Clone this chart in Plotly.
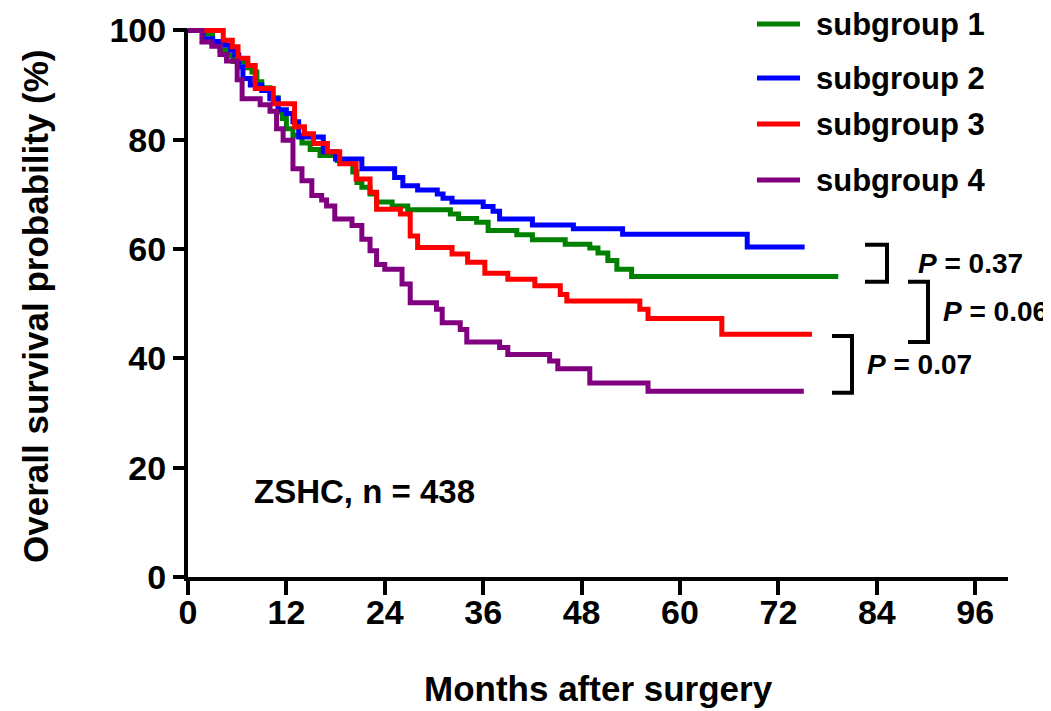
import plotly.graph_objects as go

# ---- data ----
months_g1 = [0, 2.3, 3.0, 3.9, 4.8, 5.5, 6.9, 7.8, 8.4, 9.0, 10.0, 11.0, 11.5, 12.0, 12.8, 13.9,
             14.9, 16.1, 18.2, 20.1, 20.6, 21.2, 22.2, 23.0, 24.9, 26.8, 32.0, 33.0, 35.2, 36.6,
             40.1, 42.0, 46.0, 49.0, 50.0, 51.2, 52.3, 54.1, 79.3]
surv_g1 = [100, 99.4, 97.6, 96.4, 95.4, 94.3, 93.2, 92.4, 90.6, 89.5, 87.7, 85.1, 83.9, 82.0, 80.8, 79.4,
           78.2, 77.1, 76.2, 74.1, 72.2, 71.3, 70.1, 68.6, 67.9, 67.2, 66.4, 65.6, 64.9, 63.4,
           62.6, 61.7, 60.9, 60.2, 59.3, 57.9, 56.3, 55.0, 55.0]

months_g2 = [0, 1.8, 3.0, 4.5, 5.2, 5.7, 6.2, 6.7, 7.6, 9.0, 10.0, 11.0, 12.0, 12.8, 13.5, 16.5,
             18.0, 21.2, 25.2, 26.2, 28.0, 30.4, 31.1, 32.2, 36.0, 37.2, 38.0, 42.0, 47.0, 53.0,
             68.2, 75.2]
surv_g2 = [100, 98.5, 98.0, 97.3, 96.4, 95.5, 93.3, 91.2, 90.0, 89.0, 87.5, 85.5, 84.8, 83.3, 80.5, 77.8,
           76.5, 74.7, 73.1, 71.6, 70.8, 70.1, 69.3, 68.6, 67.8, 66.9, 65.5, 64.4, 63.7, 62.7,
           60.4, 60.4]

months_g3 = [0, 4.3, 5.4, 6.1, 7.3, 8.2, 10.4, 13.0, 14.2, 15.3, 17.0, 18.5, 20.5, 22.2, 23.0,
             25.9, 27.1, 28.0, 32.2, 34.1, 36.2, 39.0, 42.3, 45.4, 46.2, 55.1, 56.1, 65.1, 76.1]
surv_g3 = [100, 98.2, 97.0, 94.9, 93.6, 89.4, 86.6, 82.4, 81.1, 79.3, 77.8, 75.6, 72.8, 70.4, 67.3,
           66.4, 62.4, 60.3, 59.1, 57.6, 55.6, 54.5, 53.3, 51.7, 50.5, 49.0, 47.3, 44.4, 44.4]

months_g4 = [0, 1.7, 2.9, 3.9, 4.7, 6.0, 6.6, 8.8, 10.0, 10.8, 11.6, 12.8, 13.9, 15.1, 16.3,
             16.9, 17.9, 20.0, 21.2, 22.2, 23.0, 24.0, 26.1, 27.1, 30.3, 31.0, 33.2, 34.0, 38.0,
             39.0, 44.1, 45.1, 49.0, 56.1, 75.1]
surv_g4 = [100, 97.9, 97.1, 95.6, 94.4, 91.0, 87.5, 86.4, 85.2, 82.0, 79.9, 74.7, 72.5, 69.8, 69.0,
           67.9, 65.5, 64.3, 61.8, 59.7, 57.2, 56.3, 53.6, 50.2, 49.0, 46.5, 45.3, 43.0, 42.0,
           40.7, 39.5, 38.1, 35.5, 34.0, 34.0]

series_names = ["subgroup 1", "subgroup 2", "subgroup 3", "subgroup 4"]
series_colors = ["#008000", "#0000FF", "#FF0000", "#800080"]
x_ticks = [0, 12, 24, 36, 48, 60, 72, 84, 96]
y_ticks = [0, 20, 40, 60, 80, 100]
p_labels = ["0.37", "0.06", "0.07"]
p_spans = [(60.8, 54.0), (54.0, 43.0), (44.1, 33.7)]   # y (%) extent of each bracket

# ---- layout geometry (targets in page pixels; page body has an 8px margin) ----
OFF = 8
W, H = 1051, 711
PLOT_L, PLOT_R, PLOT_T, PLOT_B = 188, 1008, 25, 577   # page pixels
L, R = PLOT_L - OFF, W - (PLOT_R - OFF)
T, B = PLOT_T - OFF, H - (PLOT_B - OFF)
YMAX = 101.0
PW, PH = W - L - R, H - T - B
AXW = 4

def px_x(px):
    return (px - OFF - L) / PW

def px_y(py):
    return (H - B - (py - OFF)) / PH

def val_y(v):
    return v / YMAX

FONT = "Liberation Sans, Arial, Helvetica, sans-serif"

fig = go.Figure()
data = [(months_g1, surv_g1), (months_g2, surv_g2), (months_g3, surv_g3), (months_g4, surv_g4)]
for (t, s), name, col in zip(data, series_names, series_colors):
    fig.add_trace(go.Scatter(x=t, y=s, mode="lines", name=name, showlegend=False,
                             line=dict(shape="hv", color=col, width=5)))

shapes = []
annotations = []

# y axis line drawn only up to 100 %
shapes.append(dict(type="line", xref="paper", yref="paper", layer="above",
                   x0=-(AXW / 2) / PW, x1=-(AXW / 2) / PW,
                   y0=-AXW / PH, y1=val_y(max(y_ticks)) + (AXW / 2) / PH,
                   line=dict(color="black", width=AXW)))

# custom legend
legend_y = [24, 78, 124, 180]
for name, col, ly in zip(series_names, series_colors, legend_y):
    shapes.append(dict(type="line", xref="paper", yref="paper",
                       x0=px_x(757), x1=px_x(800), y0=px_y(ly), y1=px_y(ly),
                       line=dict(color=col, width=5)))
    annotations.append(dict(text=name, xref="paper", yref="paper", x=px_x(815), y=px_y(ly),
                            xanchor="left", yanchor="middle", showarrow=False, borderpad=0,
                            font=dict(family=FONT, size=31, color="black", weight="bold")))

# P-value brackets
bracket_x = [(865, 887), (908, 928), (832, 852)]
p_text_x = [916, 941, 865]
for (ya, yb), (xa, xb), tx, lab in zip(p_spans, bracket_x, p_text_x, p_labels):
    path = (f"M {px_x(xa)} {val_y(ya)} L {px_x(xb)} {val_y(ya)} "
            f"L {px_x(xb)} {val_y(yb)} L {px_x(xa)} {val_y(yb)}")
    shapes.append(dict(type="path", xref="paper", yref="paper", path=path,
                       line=dict(color="black", width=4)))
    annotations.append(dict(text=f"<i>P</i> = {lab}", xref="paper", yref="paper",
                            x=px_x(tx), y=val_y((ya + yb) / 2),
                            xanchor="left", yanchor="middle", showarrow=False,
                            font=dict(family=FONT, size=28, color="black", weight="bold")))

# cohort label
annotations.append(dict(text="ZSHC, n = 438", xref="x", yref="y", x=7.8, y=15.6,
                        xanchor="left", yanchor="middle", showarrow=False,
                        font=dict(family=FONT, size=33, color="black", weight="bold")))

# axis titles
annotations.append(dict(text="Months after surgery", xref="paper", yref="paper",
                        x=0.5, y=px_y(688), xanchor="center", yanchor="middle", showarrow=False,
                        font=dict(family=FONT, size=35, color="black", weight="bold")))
annotations.append(dict(text="Overall survival probability (%)", xref="paper", yref="paper",
                        x=px_x(36), y=px_y(306), xanchor="center", yanchor="middle",
                        textangle=-90, showarrow=False,
                        font=dict(family=FONT, size=35, color="black", weight="bold")))

fig.update_layout(
    width=W, height=H,
    margin=dict(l=L, r=R, t=T, b=B, pad=0, autoexpand=False),
    paper_bgcolor="white", plot_bgcolor="white",
    shapes=shapes, annotations=annotations,
    showlegend=False,
)
fig.update_xaxes(range=[0, 100], tickvals=x_ticks, ticktext=[str(v) for v in x_ticks],
                 automargin=False,
                 showgrid=False, zeroline=False, showline=True, linecolor="black", linewidth=AXW,
                 ticks="outside", ticklen=14, tickwidth=4, tickcolor="black",
                 ticklabelstandoff=-12,
                 tickfont=dict(family=FONT, size=34, color="black", weight="bold"))
fig.update_yaxes(range=[0, YMAX], tickvals=y_ticks, ticktext=[str(v) for v in y_ticks],
                 automargin=False,
                 showgrid=False, zeroline=False, showline=False,
                 ticks="outside", ticklen=14, tickwidth=4, tickcolor="black",
                 tickfont=dict(family=FONT, size=34, color="black", weight="bold"))

fig.write_html("out.html")
